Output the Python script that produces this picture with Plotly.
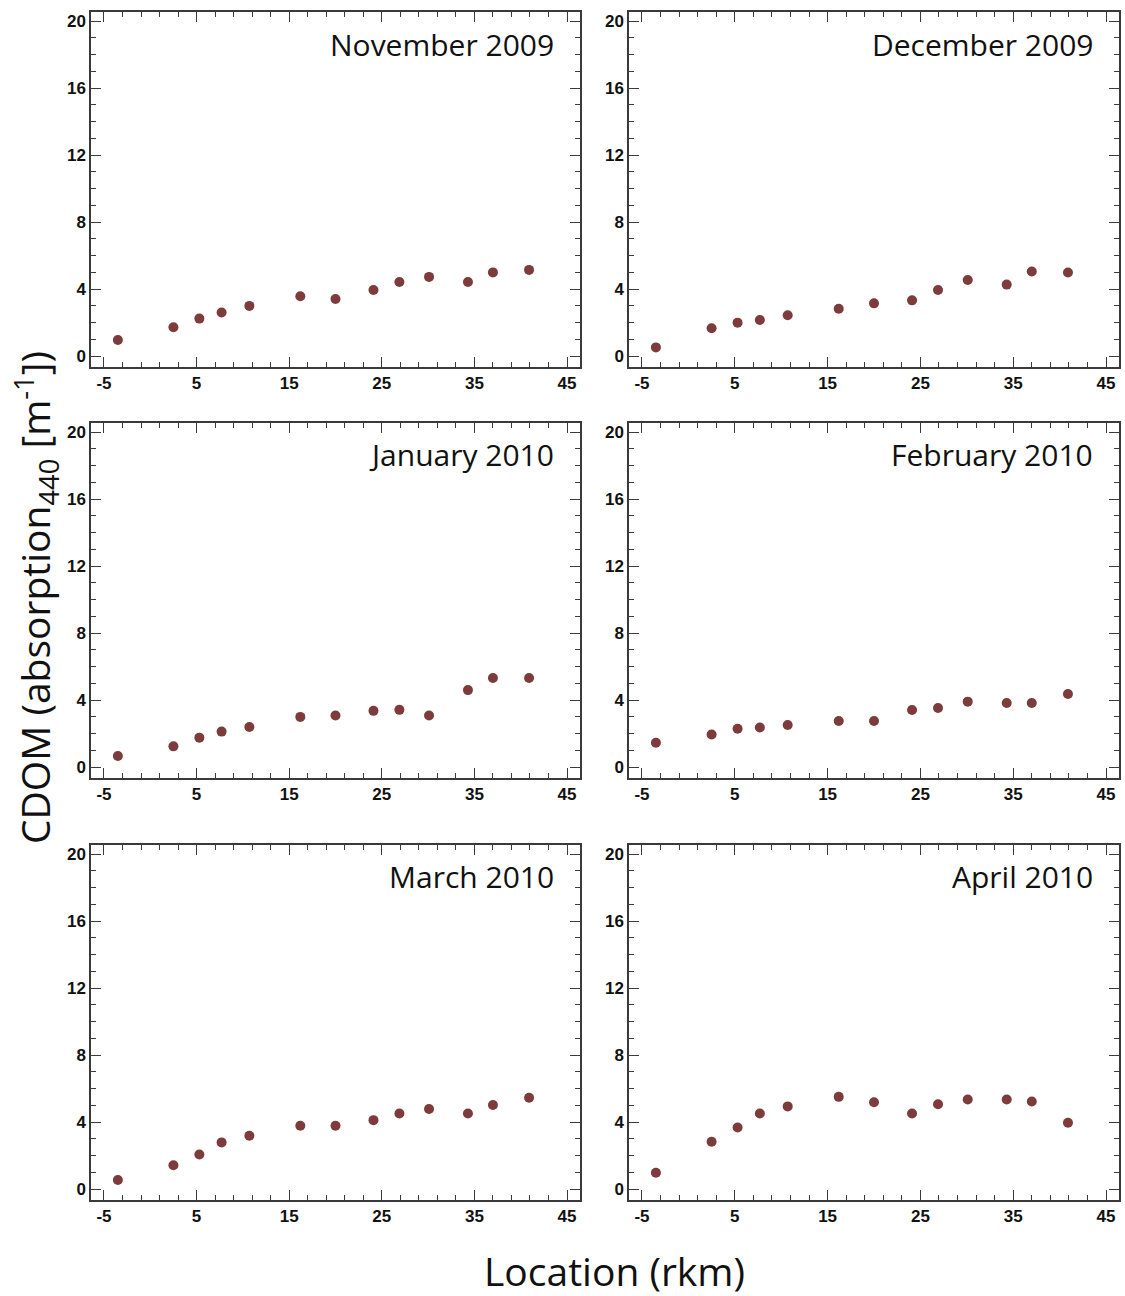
import plotly.graph_objects as go

# Sampling stations along the river (river km)
rkm = [-3.5, 2.5, 5.3, 7.7, 10.7, 16.2, 20.0, 24.1, 26.9, 30.1, 34.3, 37.0, 40.9]

# CDOM absorption at 440 nm [m^-1] per monthly survey
nov_2009 = [0.96, 1.72, 2.24, 2.60, 3.00, 3.57, 3.41, 3.95, 4.43, 4.73, 4.43, 5.00, 5.15]
dec_2009 = [0.52, 1.66, 2.00, 2.16, 2.44, 2.83, 3.15, 3.33, 3.95, 4.55, 4.27, 5.05, 4.99]
jan_2010 = [0.66, 1.24, 1.76, 2.12, 2.40, 3.00, 3.08, 3.36, 3.42, 3.08, 4.60, 5.32, 5.32]
feb_2010 = [1.46, 1.95, 2.29, 2.37, 2.51, 2.75, 2.75, 3.41, 3.53, 3.91, 3.83, 3.83, 4.37]
mar_2010 = [0.54, 1.43, 2.07, 2.79, 3.19, 3.78, 3.78, 4.12, 4.52, 4.78, 4.52, 5.02, 5.46]
apr_2010 = [0.98, 2.83, 3.68, 4.52, 4.94, 5.51, 5.19, 4.52, 5.07, 5.35, 5.35, 5.23, 3.96]

month_labels = ["November 2009", "December 2009", "January 2010",
                "February 2010", "March 2010", "April 2010"]
series = [nov_2009, dec_2009, jan_2010, feb_2010, mar_2010, apr_2010]

x_ticks = [-5, 5, 15, 25, 35, 45]
y_ticks = [0, 4, 8, 12, 16, 20]

W, H = 1125, 1296
col_px = [(91, 580), (629, 1119)]
row_px = [(12, 367), (423, 778), (845, 1200)]

marker_color = "#7d3b3b"
frame_color = "#3a3a3a"
tick_font = dict(family="Liberation Sans, Arial", size=17, color="#111111", weight="bold")
label_font = "Open Sans, Noto Sans, sans-serif"

fig = go.Figure()
layout = dict(
    width=W, height=H,
    margin=dict(l=0, r=0, t=0, b=0),
    paper_bgcolor="white", plot_bgcolor="white",
    showlegend=False,
    annotations=[],
)

for i, (label, vals) in enumerate(zip(month_labels, series)):
    r, c = divmod(i, 2)
    n = i + 1
    xa = "xaxis" if n == 1 else f"xaxis{n}"
    ya = "yaxis" if n == 1 else f"yaxis{n}"
    xr = "x" if n == 1 else f"x{n}"
    yr = "y" if n == 1 else f"y{n}"

    fig.add_trace(go.Scatter(
        x=rkm, y=vals, mode="markers", xaxis=xr, yaxis=yr,
        marker=dict(color=marker_color, size=10, symbol="circle", line=dict(width=0)),
    ))

    x0, x1 = col_px[c]
    y0, y1 = row_px[r]
    common = dict(
        showline=True, linecolor=frame_color, linewidth=1.5, mirror="allticks",
        ticks="inside", ticklen=10, tickwidth=1.3, tickcolor=frame_color,
        showgrid=False, zeroline=False, tickfont=tick_font,
        minor=dict(ticks="inside", ticklen=5, tickwidth=1.1, tickcolor=frame_color, showgrid=False),
        fixedrange=True,
    )
    layout[xa] = dict(
        common, domain=[x0 / W, x1 / W], anchor=yr,
        range=[-6.4, 46.4], tickvals=x_ticks, ticktext=[str(t) for t in x_ticks],
        minor=dict(common["minor"], dtick=2, tick0=-5),
    )
    layout[ya] = dict(
        common, domain=[1 - y1 / H, 1 - y0 / H], anchor=xr,
        range=[-0.65, 20.55], tickvals=y_ticks, ticktext=[str(t) for t in y_ticks],
        minor=dict(common["minor"], dtick=1, tick0=0),
    )
    layout["annotations"].append(dict(
        text=label, xref=f"{xr} domain", yref=f"{yr} domain",
        x=1 - 24 / (x1 - x0), y=1 - 32 / (y1 - y0),
        xanchor="right", yanchor="middle", showarrow=False,
        font=dict(family=label_font, size=30, color="#111111"),
    ))

# Shared axis titles
layout["annotations"].append(dict(
    text="CDOM (absorption<sub>440</sub> [m<sup>-1</sup>])",
    xref="paper", yref="paper", x=36 / W, y=1 - 598 / H,
    xanchor="center", yanchor="middle", textangle=-90, showarrow=False,
    font=dict(family=label_font, size=39, color="#111111"),
))
layout["annotations"].append(dict(
    text="Location (rkm)",
    xref="paper", yref="paper", x=614 / W, y=1 - 1270 / H,
    xanchor="center", yanchor="middle", showarrow=False,
    font=dict(family=label_font, size=39, color="#111111"),
))

fig.update_layout(**layout)
fig.write_html("out.html")
